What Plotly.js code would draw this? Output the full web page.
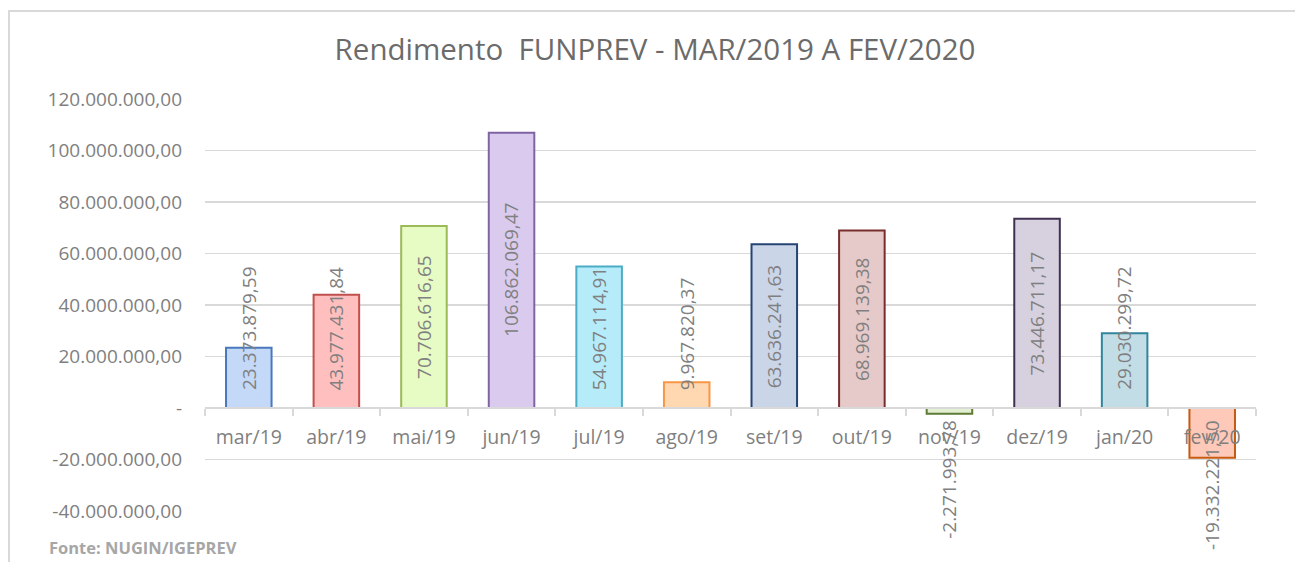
<!DOCTYPE html>
<html>
<head>
<meta charset="utf-8">
<script src="https://cdn.plot.ly/plotly-3.0.1.min.js"></script>
<style>
  html, body { margin: 0; padding: 0; background: #ffffff; }
  #chart { width: 1295px; height: 562px; }
</style>
</head>
<body>
<div id="chart"></div>
<script>
// ---- data ----
const months = ["mar/19","abr/19","mai/19","jun/19","jul/19","ago/19","set/19","out/19","nov/19","dez/19","jan/20","fev/20"];
const rendimento = [23373879.59, 43977431.84, 70706616.65, 106862069.47, 54967114.91, 9967820.37,
                    63636241.63, 68969139.38, -2271993.78, 73446711.17, 29030299.72, -19332221.50];
const yTickVals = [120000000, 100000000, 80000000, 60000000, 40000000, 20000000, 0, -20000000, -40000000];
const yTickText = ["120.000.000,00","100.000.000,00","80.000.000,00","60.000.000,00","40.000.000,00","20.000.000,00","-","-20.000.000,00","-40.000.000,00"];
const fillColors = ["#c4d8f8","#ffbfbf","#e7fbc4","#dacbee","#b6ecfa","#ffd8b2","#cbd5e8","#e6caca","#e2efd0","#d6d0df","#c3dde6","#ffc9b9"];
const lineColors = ["#4a78bd","#c0504d","#9bbb59","#8064a2","#4bacc6","#f79646","#254474","#7b2c2c","#5f7a35","#403152","#31859c","#c55a11"];

// ---- layout constants ----
const W = 1295, H = 562;
const M = {l: 205, r: 39, t: 99, b: 51};
const yMin = -40000000, yMax = 120000000;
const plotH = H - M.t - M.b, plotW = W - M.l - M.r;
const pxPerUnit = plotH / (yMax - yMin);
const FONT = "Open Sans, Noto Sans, sans-serif";
const labelSize = 19;

function fmtBR(v) {
  const neg = v < 0;
  const s = Math.abs(v).toFixed(2);
  let [ip, dp] = s.split(".");
  ip = ip.replace(/\B(?=(\d{3})+(?!\d))/g, ".");
  return (neg ? "-" : "") + ip + "," + dp;
}

const cv = document.createElement("canvas").getContext("2d");
cv.font = labelSize + "px 'Open Sans'";

const annotations = rendimento.map((v, i) => {
  const txt = fmtBR(v);
  const L = cv.measureText(txt).width;
  let yc;
  if (v >= 0) {
    yc = Math.max(v / 2, (L / 2 + 18) / pxPerUnit);
  } else {
    yc = Math.min(v / 2, -(L / 2 + 12) / pxPerUnit);
  }
  return {
    x: months[i], y: yc, xref: "x", yref: "y",
    text: txt, textangle: -90, showarrow: false,
    xanchor: "center", yanchor: "middle",
    font: {family: FONT, size: labelSize, color: "#808080"}
  };
});

annotations.push({
  xref: "paper", yref: "paper",
  x: (47 - M.l) / plotW, y: (H - M.b - 547) / plotH,
  xanchor: "left", yanchor: "middle", showarrow: false,
  text: "<b>Fonte: NUGIN/IGEPREV</b>",
  font: {family: FONT, size: 16.5, color: "#a6a6a6"}
});

const trace = {
  type: "bar",
  x: months,
  y: rendimento,
  width: 0.52,
  marker: {color: fillColors, line: {color: lineColors, width: 2}},
  hoverinfo: "x+y"
};

const layout = {
  width: W, height: H,
  margin: M,
  paper_bgcolor: "#ffffff", plot_bgcolor: "#ffffff",
  showlegend: false,
  font: {family: FONT, color: "#7f7f7f"},
  title: {
    text: "Rendimento  FUNPREV - MAR/2019 A FEV/2020",
    x: 655 / W, xanchor: "center", xref: "container",
    y: 1 - 50 / H, yanchor: "middle", yref: "container",
    font: {family: FONT, size: 29.5, color: "#6b6b6b"}
  },
  xaxis: {
    type: "category",
    anchor: "free",
    position: (0 - yMin) / (yMax - yMin),
    showline: true, linecolor: "#d9d9d9", linewidth: 2,
    ticks: "outside", tickson: "boundaries", ticklen: 7, tickcolor: "#d9d9d9", tickwidth: 2,
    ticklabelstandoff: 12,
    showgrid: false, zeroline: false,
    tickfont: {family: FONT, size: 19.5, color: "#7f7f7f"},
    fixedrange: true
  },
  yaxis: {
    range: [yMin, yMax],
    tickvals: yTickVals, ticktext: yTickText,
    showgrid: true, gridcolor: "#d9d9d9", gridwidth: 1.5,
    zeroline: false, showline: false,
    ticks: "", ticklabelstandoff: 22,
    tickfont: {family: FONT, size: 19, color: "#7f7f7f"},
    fixedrange: true
  },
  shapes: [{
    type: "rect", xref: "paper", yref: "paper",
    x0: (9 - M.l) / plotW, x1: (W + 20 - M.l) / plotW,
    y0: (H - M.b - (H + 20)) / plotH, y1: (H - M.b - 11) / plotH,
    line: {color: "#d9d9d9", width: 2}, fillcolor: "rgba(0,0,0,0)", layer: "below"
  }],
  annotations: annotations
};

Plotly.newPlot("chart", [trace], layout, {displayModeBar: false, staticPlot: true});
</script>
</body>
</html>
